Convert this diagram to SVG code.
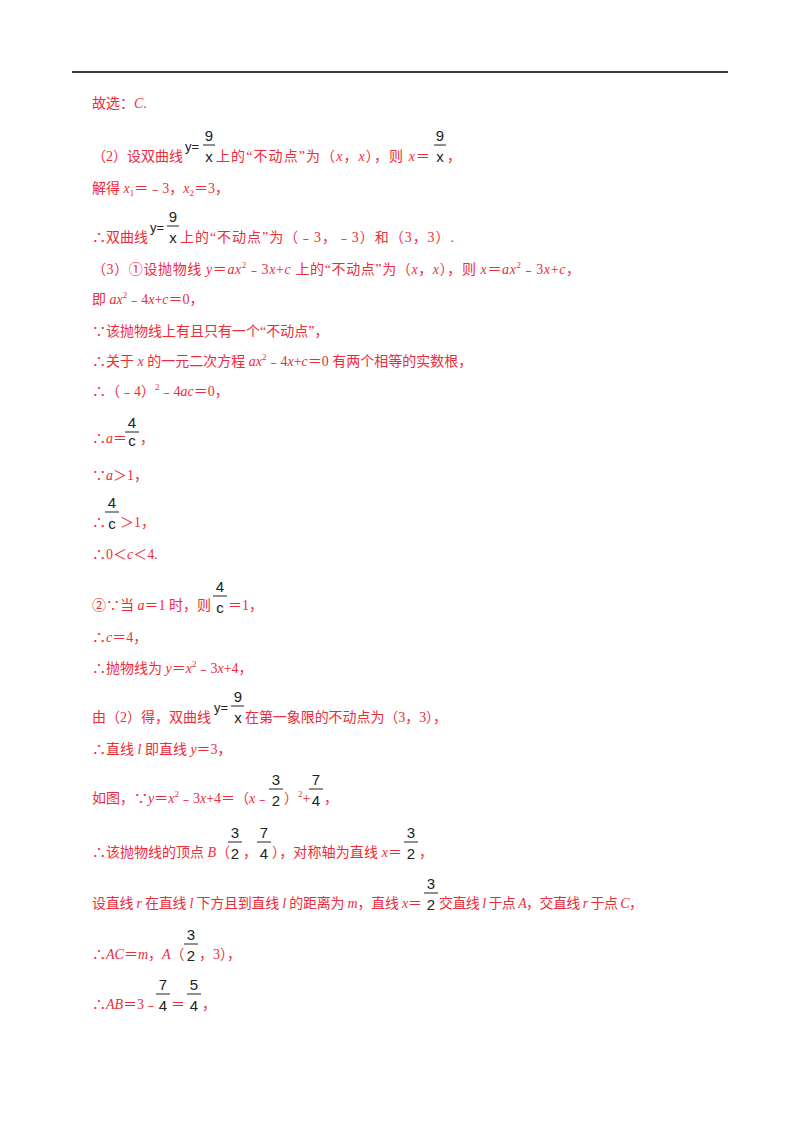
<svg xmlns="http://www.w3.org/2000/svg" width="800" height="1132" viewBox="0 0 800 1132">
<style>
.t{font-family:"Liberation Serif","Noto Sans CJK SC",serif;font-size:14px;fill:#ee2b3a}
.i{font-style:italic}
.s{font-size:9px}
.f{font-family:"Liberation Sans","DejaVu Sans",sans-serif;font-size:15px;fill:#222;text-anchor:middle}
.fy{font-family:"Liberation Sans","DejaVu Sans",sans-serif;font-size:13px;fill:#222}
.b{stroke:#222;stroke-width:1}
</style>
<rect width="800" height="1132" fill="#fff"/>
<line x1="72" y1="72" x2="728" y2="72" stroke="#000" stroke-width="1.5"/>
<g id="content">
<text class="t" x="92" y="108">故选：<tspan class="i">C</tspan>.</text>

<text class="t" x="92" y="161">（2）设双曲线</text>
<text class="fy" x="185" y="151">y=</text>
<text class="f" x="209" y="141">9</text><line class="b" x1="203" y1="145" x2="215" y2="145"/><text class="f" x="209" y="162">x</text>
<text class="t" x="216" y="161" textLength="214" lengthAdjust="spacing">上的“不动点”为（<tspan class="i">x</tspan>，<tspan class="i">x</tspan>），则 <tspan class="i">x</tspan>＝</text>
<text class="f" x="440" y="141">9</text><line class="b" x1="434" y1="145" x2="446" y2="145"/><text class="f" x="440" y="162">x</text>
<text class="t" x="447" y="161">，</text>

<text class="t" x="92" y="193">解得 <tspan class="i">x</tspan><tspan class="s" dy="3">1</tspan><tspan dy="-3">＝﹣3，</tspan><tspan class="i">x</tspan><tspan class="s" dy="3">2</tspan><tspan dy="-3">＝3，</tspan></text>

<text class="t" x="92" y="242">∴双曲线</text>
<text class="fy" x="150" y="232">y=</text>
<text class="f" x="173" y="222">9</text><line class="b" x1="167" y1="226" x2="179" y2="226"/><text class="f" x="173" y="243">x</text>
<text class="t" x="180" y="242" textLength="274" lengthAdjust="spacing">上的“不动点”为（﹣3，﹣3）和（3，3）.</text>

<text class="t" x="92" y="274" textLength="488" lengthAdjust="spacing">（3）①设抛物线 <tspan class="i">y</tspan>＝<tspan class="i">ax</tspan><tspan class="s" dy="-6">2</tspan><tspan dy="6">﹣3</tspan><tspan class="i">x</tspan>+<tspan class="i">c</tspan> 上的“不动点”为（<tspan class="i">x</tspan>，<tspan class="i">x</tspan>），则 <tspan class="i">x</tspan>＝<tspan class="i">ax</tspan><tspan class="s" dy="-6">2</tspan><tspan dy="6">﹣3</tspan><tspan class="i">x</tspan>+<tspan class="i">c</tspan>，</text>
<text class="t" x="92" y="304">即 <tspan class="i">ax</tspan><tspan class="s" dy="-6">2</tspan><tspan dy="6">﹣4</tspan><tspan class="i">x</tspan>+<tspan class="i">c</tspan>＝0，</text>
<text class="t" x="92" y="336">∵该抛物线上有且只有一个“不动点”，</text>
<text class="t" x="92" y="366">∴关于 <tspan class="i">x</tspan> 的一元二次方程 <tspan class="i">ax</tspan><tspan class="s" dy="-6">2</tspan><tspan dy="6">﹣4</tspan><tspan class="i">x</tspan>+<tspan class="i">c</tspan>＝0 有两个相等的实数根，</text>
<text class="t" x="92" y="396">∴（﹣4）<tspan class="s" dy="-6">2</tspan><tspan dy="6">﹣4</tspan><tspan class="i">ac</tspan>＝0，</text>

<text class="t" x="92" y="443">∴<tspan class="i">a</tspan>＝</text>
<text class="f" x="132" y="428">4</text><line class="b" x1="125" y1="432" x2="139" y2="432"/><text class="f" x="132" y="446">c</text>
<text class="t" x="140" y="443">，</text>

<text class="t" x="92" y="480">∵<tspan class="i">a</tspan>＞1，</text>

<text class="f" x="112" y="508">4</text><line class="b" x1="105" y1="512" x2="119" y2="512"/><text class="f" x="112" y="529">c</text>
<text class="t" x="92" y="527">∴</text><text class="t" x="120" y="527">＞1，</text>

<text class="t" x="92" y="559">∴0＜<tspan class="i">c</tspan>＜4.</text>

<text class="t" x="92" y="610">②∵当 <tspan class="i">a</tspan>＝1 时，则</text>
<text class="f" x="220" y="592">4</text><line class="b" x1="213" y1="596" x2="227" y2="596"/><text class="f" x="220" y="613">c</text>
<text class="t" x="228" y="610">＝1，</text>

<text class="t" x="92" y="642">∴<tspan class="i">c</tspan>＝4，</text>
<text class="t" x="92" y="673">∴抛物线为 <tspan class="i">y</tspan>＝<tspan class="i">x</tspan><tspan class="s" dy="-6">2</tspan><tspan dy="6">﹣3</tspan><tspan class="i">x</tspan>+4，</text>

<text class="t" x="92" y="722">由（2）得，双曲线</text>
<text class="fy" x="214" y="712">y=</text>
<text class="f" x="238" y="702">9</text><line class="b" x1="231" y1="706" x2="244" y2="706"/><text class="f" x="238" y="723">x</text>
<text class="t" x="245" y="722" textLength="202" lengthAdjust="spacing">在第一象限的不动点为（3，3），</text>

<text class="t" x="92" y="754">∴直线 <tspan class="i">l</tspan> 即直线 <tspan class="i">y</tspan>＝3，</text>

<text class="t" x="92" y="803">如图，∵<tspan class="i">y</tspan>＝<tspan class="i">x</tspan><tspan class="s" dy="-6">2</tspan><tspan dy="6">﹣3</tspan><tspan class="i">x</tspan>+4＝（<tspan class="i">x</tspan>﹣</text>
<text class="f" x="276" y="785">3</text><line class="b" x1="269" y1="789" x2="283" y2="789"/><text class="f" x="276" y="806">2</text>
<text class="t" x="284" y="803">）<tspan class="s" dy="-6">2</tspan><tspan dy="6">+</tspan></text>
<text class="f" x="316" y="785">7</text><line class="b" x1="309" y1="789" x2="323" y2="789"/><text class="f" x="316" y="806">4</text>
<text class="t" x="324" y="803">，</text>

<text class="t" x="92" y="857">∴该抛物线的顶点 <tspan class="i">B</tspan>（</text>
<text class="f" x="235" y="838">3</text><line class="b" x1="228" y1="842" x2="242" y2="842"/><text class="f" x="235" y="859">2</text>
<text class="t" x="243" y="857">，</text>
<text class="f" x="264" y="838">7</text><line class="b" x1="257" y1="842" x2="271" y2="842"/><text class="f" x="264" y="859">4</text>
<text class="t" x="272" y="857" textLength="130" lengthAdjust="spacing">），对称轴为直线 <tspan class="i">x</tspan>＝</text>
<text class="f" x="411" y="838">3</text><line class="b" x1="404" y1="842" x2="418" y2="842"/><text class="f" x="411" y="859">2</text>
<text class="t" x="419" y="857">，</text>

<text class="t" x="92" y="908" textLength="330" lengthAdjust="spacing">设直线 <tspan class="i">r</tspan> 在直线 <tspan class="i">l</tspan> 下方且到直线 <tspan class="i">l</tspan> 的距离为 <tspan class="i">m</tspan>，直线 <tspan class="i">x</tspan>＝</text>
<text class="f" x="431" y="889">3</text><line class="b" x1="424" y1="893" x2="438" y2="893"/><text class="f" x="431" y="910">2</text>
<text class="t" x="439" y="908" textLength="204" lengthAdjust="spacing">交直线 <tspan class="i">l</tspan> 于点 <tspan class="i">A</tspan>，交直线 <tspan class="i">r</tspan> 于点 <tspan class="i">C</tspan>，</text>

<text class="t" x="92" y="959">∴<tspan class="i">AC</tspan>＝<tspan class="i">m</tspan>，<tspan class="i">A</tspan>（</text>
<text class="f" x="191" y="940">3</text><line class="b" x1="184" y1="944" x2="198" y2="944"/><text class="f" x="191" y="961">2</text>
<text class="t" x="199" y="959">，3），</text>

<text class="t" x="92" y="1009">∴<tspan class="i">AB</tspan>＝3﹣</text>
<text class="f" x="163" y="990">7</text><line class="b" x1="156" y1="994" x2="170" y2="994"/><text class="f" x="163" y="1011">4</text>
<text class="t" x="171" y="1009">＝</text>
<text class="f" x="194" y="990">5</text><line class="b" x1="187" y1="994" x2="201" y2="994"/><text class="f" x="194" y="1011">4</text>
<text class="t" x="202" y="1009">，</text>
</g>
</svg>
